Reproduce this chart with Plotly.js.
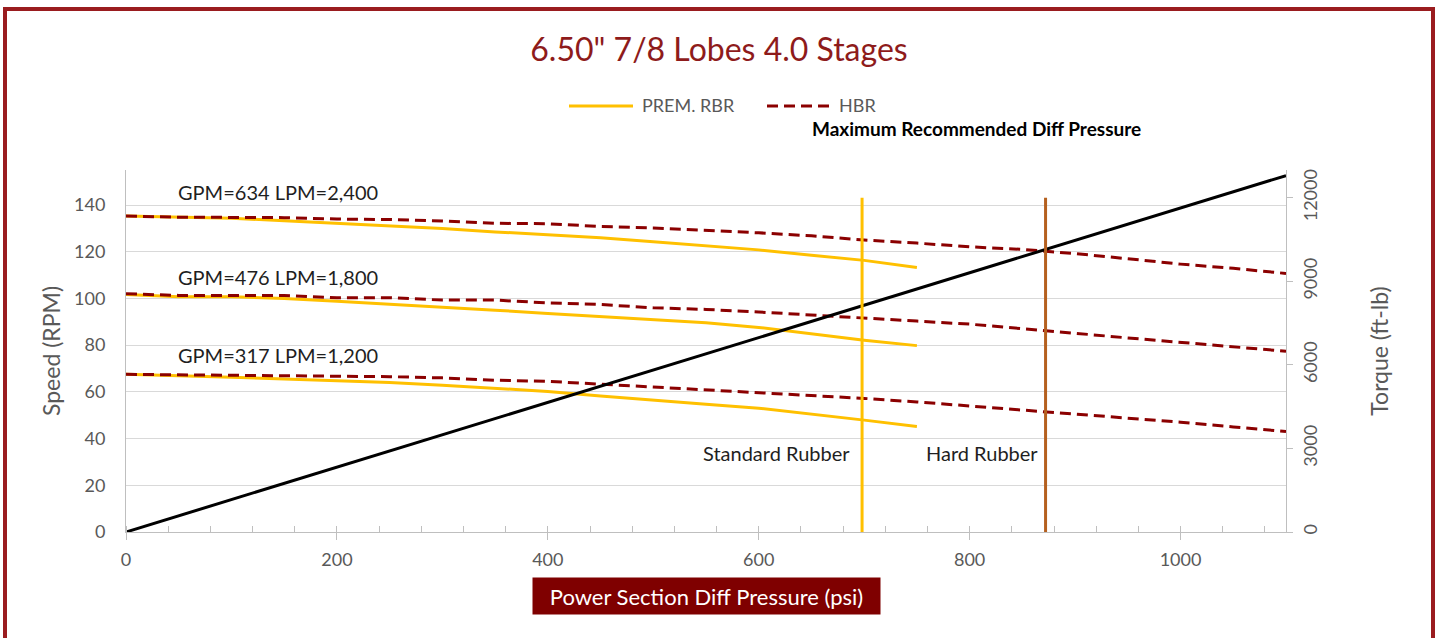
<!DOCTYPE html>
<html>
<head>
<meta charset="utf-8">
<script src="https://cdn.plot.ly/plotly-3.0.1.min.js"></script>
<style>
  html, body { margin: 0; padding: 0; background: #ffffff; }
  #chart { width: 1438px; height: 638px; }
</style>
</head>
<body>
<div id="chart"></div>
<script>
// ---------- data ----------
const chartTitle = '6.50" 7/8 Lobes 4.0 Stages';
const seriesNames = ['PREM. RBR', 'HBR'];
const flowLabels = ['GPM=634 LPM=2,400', 'GPM=476 LPM=1,800', 'GPM=317 LPM=1,200'];

// differential pressure (psi)
const psiPrem = [0, 50, 100, 150, 200, 250, 300, 350, 400, 450, 500, 550, 600, 650, 700, 750];
const psiHbr  = [0, 50, 100, 150, 200, 250, 300, 350, 400, 450, 500, 550, 600, 650, 700, 750,
                 800, 850, 900, 950, 1000, 1050, 1100];

// speed (RPM), PREM. RBR
const prem634 = [135.3, 134.9, 134.3, 133.3, 132.2, 131.3, 130.0, 128.5, 127.2, 126.0, 124.3, 122.7, 120.8, 118.5, 116.3, 113.3];
const prem476 = [101.7, 100.7, 100.7, 100.0, 98.8, 97.6, 96.3, 95.0, 93.6, 92.3, 91.1, 89.6, 87.6, 84.8, 82.1, 79.8];
const prem317 = [67.5, 67.0, 66.3, 65.5, 64.9, 64.0, 62.8, 61.4, 60.2, 58.2, 56.6, 54.7, 53.0, 50.6, 47.9, 45.2];

// speed (RPM), HBR
const hbr634 = [135.3, 134.8, 134.7, 134.6, 134.0, 133.8, 133.2, 132.2, 132.0, 130.8, 130.2, 129.3, 128.1, 126.8, 125.0, 123.7,
                122.1, 121.0, 119.2, 117.0, 114.7, 112.9, 110.7];
const hbr476 = [102.0, 101.3, 101.3, 101.3, 100.3, 100.3, 99.3, 99.3, 98.1, 97.4, 96.0, 95.3, 94.2, 93.0, 91.6, 90.3,
                89.0, 87.2, 85.1, 83.1, 81.3, 79.5, 77.4];
const hbr317 = [67.5, 67.3, 67.2, 67.1, 66.8, 66.5, 66.0, 65.0, 64.5, 63.3, 62.0, 61.0, 59.9, 58.6, 57.2, 55.7,
                53.8, 52.2, 50.5, 48.8, 47.0, 45.0, 43.0];

// torque (ft-lb)
const torquePsi = [0, 1100];
const torqueFtLb = [0, 12800];

// maximum recommended differential pressure (psi)
const limitNames = ['Standard Rubber', 'Hard Rubber'];
const limitPsi = [698, 872];
const limitTorqueSpan = [0, 12000];

// axis ticks
const speedTicks = [0, 20, 40, 60, 80, 100, 120, 140];
const torqueTicks = [0, 3000, 6000, 9000, 12000];
const psiTicks = [0, 200, 400, 600, 800, 1000];

// ---------- styling ----------
const FONT = 'Lato, "Open Sans", "Liberation Sans", sans-serif';
const YELLOW = '#FFC000';
const DARKRED = '#8B0000';
const BROWN = '#B5601F';
const GREY_TXT = '#595959';
const AXIS_GREY = '#BFBFBF';
const GRID_GREY = '#D9D9D9';
const HBR_DASH = '11px,6px';

const traces = [];
const premSets = [prem634, prem476, prem317];
const hbrSets = [hbr634, hbr476, hbr317];
for (let i = 0; i < 3; i++) {
  traces.push({
    x: psiPrem, y: premSets[i], type: 'scatter', mode: 'lines',
    name: seriesNames[0], legendgroup: 'prem', showlegend: false,
    line: {color: YELLOW, width: 3}, hoverinfo: 'skip'
  });
}
for (let i = 0; i < 3; i++) {
  traces.push({
    x: psiHbr, y: hbrSets[i], type: 'scatter', mode: 'lines',
    name: seriesNames[1], legendgroup: 'hbr', showlegend: false,
    line: {color: DARKRED, width: 3, dash: HBR_DASH}, hoverinfo: 'skip'
  });
}
traces.push({
  x: torquePsi, y: torqueFtLb, type: 'scatter', mode: 'lines', yaxis: 'y2',
  name: 'Torque', showlegend: false, line: {color: '#000000', width: 3}, hoverinfo: 'skip'
});
const limitColors = [YELLOW, BROWN];
for (let i = 0; i < 2; i++) {
  traces.push({
    x: [limitPsi[i], limitPsi[i]], y: limitTorqueSpan, type: 'scatter', mode: 'lines', yaxis: 'y2',
    name: limitNames[i], showlegend: false, line: {color: limitColors[i], width: 3}, hoverinfo: 'skip'
  });
}

const L = 126, R = 152, T = 170, B = 106;
const W = 1438, H = 638;
const pw = W - L - R, ph = H - T - B;
const px2x = p => (p - L) / pw;      // pixel -> paper x
const py2y = p => (H - B - p) / ph;  // pixel -> paper y

const annFont = {family: FONT, size: 20, color: '#1f1f1f'};
const legFont = {family: FONT, size: 18, color: GREY_TXT};
const LEG_Y = 105;
const annotations = [
  {xref: 'x', yref: 'y', x: 47, y: 145.5, xanchor: 'left', yanchor: 'middle', text: flowLabels[0], showarrow: false, font: annFont},
  {xref: 'x', yref: 'y', x: 47, y: 109, xanchor: 'left', yanchor: 'middle', text: flowLabels[1], showarrow: false, font: annFont},
  {xref: 'x', yref: 'y', x: 47, y: 76, xanchor: 'left', yanchor: 'middle', text: flowLabels[2], showarrow: false, font: annFont},
  {xref: 'x', yref: 'y', x: 688, y: 34, xanchor: 'right', yanchor: 'middle', text: limitNames[0], showarrow: false, font: annFont},
  {xref: 'x', yref: 'y', x: 757, y: 34, xanchor: 'left', yanchor: 'middle', text: limitNames[1], showarrow: false, font: annFont},
  {xref: 'paper', yref: 'paper', x: px2x(976), y: py2y(129), xanchor: 'center', yanchor: 'middle',
   text: '<b>Maximum Recommended Diff Pressure</b>', showarrow: false, font: {family: FONT, size: 19, color: '#000000'}},
  {xref: 'paper', yref: 'paper', x: px2x(706.5), y: py2y(596), xanchor: 'center', yanchor: 'middle',
   text: 'Power Section Diff Pressure (psi)', showarrow: false, width: 347, height: 36,
   bgcolor: '#7F0000', borderpad: 0, font: {family: FONT, size: 22, color: '#ffffff'}},
  // legend texts
  {xref: 'paper', yref: 'paper', x: px2x(640), y: py2y(LEG_Y), xanchor: 'left', yanchor: 'middle',
   text: seriesNames[0], showarrow: false, font: legFont},
  {xref: 'paper', yref: 'paper', x: px2x(837), y: py2y(LEG_Y), xanchor: 'left', yanchor: 'middle',
   text: seriesNames[1], showarrow: false, font: legFont}
];

const shapes = [
  {type: 'rect', xref: 'paper', yref: 'paper', x0: px2x(5), x1: px2x(1433), y0: py2y(660), y1: py2y(9),
   line: {color: '#9A1C1F', width: 4}, fillcolor: 'rgba(0,0,0,0)', layer: 'below'},
  // legend keys
  {type: 'line', xref: 'paper', yref: 'paper', x0: px2x(569), x1: px2x(633), y0: py2y(LEG_Y + 1), y1: py2y(LEG_Y + 1),
   line: {color: YELLOW, width: 3}},
  {type: 'line', xref: 'paper', yref: 'paper', x0: px2x(767), x1: px2x(832), y0: py2y(LEG_Y + 1), y1: py2y(LEG_Y + 1),
   line: {color: DARKRED, width: 3, dash: HBR_DASH}}
];

const layout = {
  width: W, height: H,
  margin: {l: L, r: R, t: T, b: B, pad: 0},
  paper_bgcolor: '#ffffff', plot_bgcolor: '#ffffff',
  font: {family: FONT, size: 18, color: GREY_TXT},
  title: {text: chartTitle, x: 0.5, xref: 'container', y: 1 - 50 / H, yref: 'container', yanchor: 'middle',
          font: {family: FONT, size: 32, color: '#8E1B1B'}},
  showlegend: false,
  xaxis: {
    range: [0, 1100], tickvals: psiTicks, ticks: 'outside', ticklen: 7, tickcolor: AXIS_GREY, tickwidth: 1,
    showline: true, linecolor: AXIS_GREY, linewidth: 1, showgrid: false, zeroline: false,
    tickfont: {family: FONT, size: 18, color: GREY_TXT}, ticklabelstandoff: 4,
    minor: {dtick: 40, tick0: 0, ticks: 'inside', ticklen: 6, tickcolor: AXIS_GREY, showgrid: false}
  },
  yaxis: {
    range: [0, 155], tickvals: speedTicks, ticks: '', showline: true, linecolor: AXIS_GREY, linewidth: 1,
    showgrid: true, gridcolor: GRID_GREY, gridwidth: 1, zeroline: false,
    tickfont: {family: FONT, size: 18, color: GREY_TXT}, ticklabelstandoff: 16,
    title: {text: 'Speed (RPM)', font: {family: FONT, size: 23, color: GREY_TXT}, standoff: 7}
  },
  yaxis2: {
    range: [0, 13000], tickvals: torqueTicks, tickformat: 'd', overlaying: 'y', side: 'right', ticks: 'outside', ticklen: 6,
    tickcolor: AXIS_GREY, showline: true, linecolor: AXIS_GREY, linewidth: 1, showgrid: false, zeroline: false,
    tickangle: -90, tickfont: {family: FONT, size: 18, color: GREY_TXT}, ticklabelstandoff: 2,
    title: {text: 'Torque (ft-lb)', font: {family: FONT, size: 23, color: GREY_TXT}, standoff: 52}
  },
  annotations: annotations,
  shapes: shapes,
  hovermode: false
};

Plotly.newPlot('chart', traces, layout, {displayModeBar: false, staticPlot: true});
</script>
</body>
</html>
